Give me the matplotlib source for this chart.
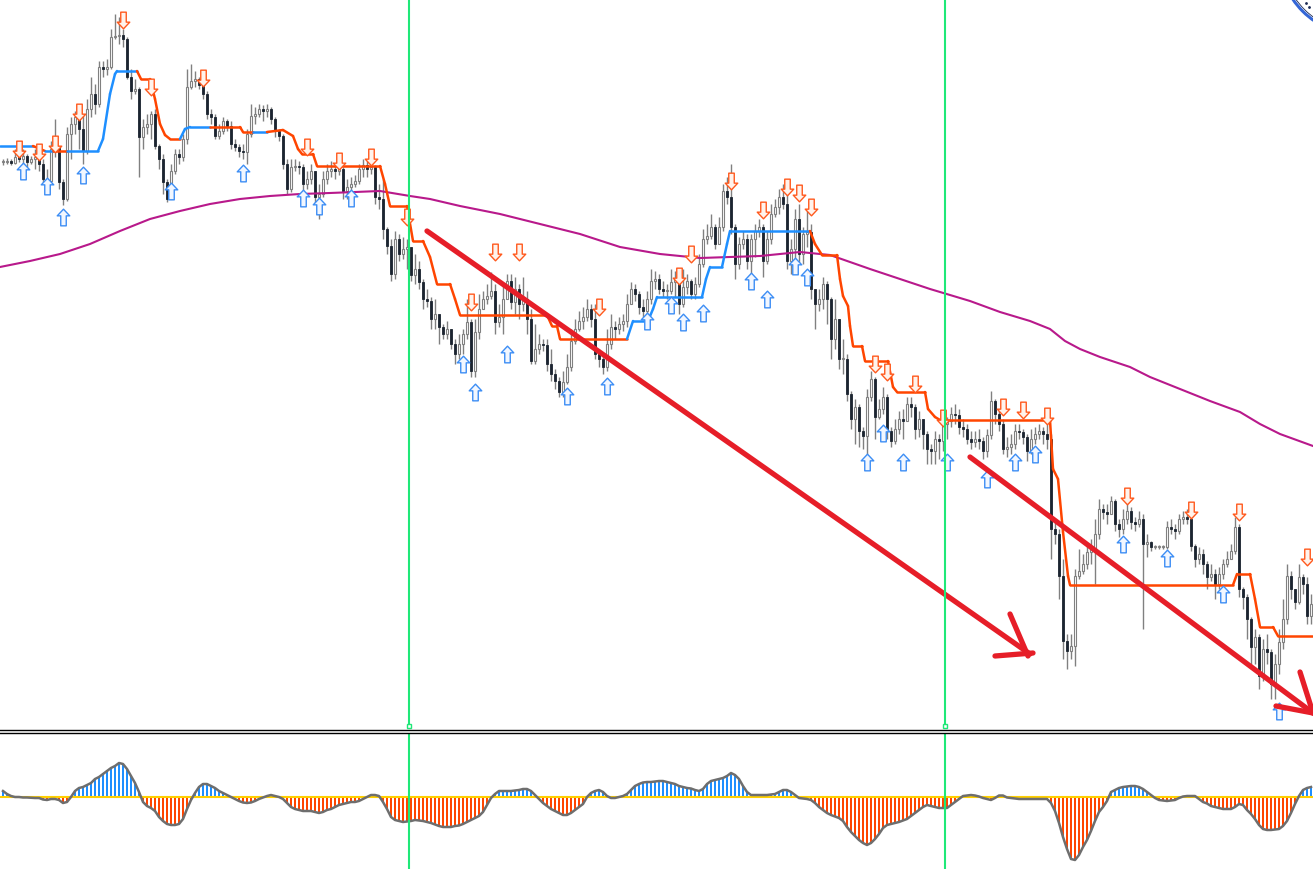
import numpy as np
import matplotlib
matplotlib.use("Agg")
import matplotlib.pyplot as plt
from matplotlib.path import Path
from matplotlib.lines import Line2D
from matplotlib.patches import Ellipse

# ---- price bars (one per candle) ----
closes = [637, 638, 636, 642, 640, 643, 637, 640, 642, 635,
          620, 618, 650, 653, 617, 600, 665, 675, 682, 670,
          648, 690, 705, 695, 732, 730, 732, 762, 763, 764,
          760, 722, 708, 710, 662, 672, 675, 685, 653, 640,
          617, 600, 628, 645, 642, 660, 712, 718, 720, 714,
          705, 685, 682, 663, 668, 678, 673, 655, 652, 648,
          647, 665, 683, 685, 690, 688, 690, 680, 668, 663,
          635, 610, 632, 633, 632, 615, 620, 628, 602, 605,
          620, 628, 630, 628, 630, 608, 612, 615, 618, 630,
          634, 630, 632, 602, 600, 570, 553, 525, 560, 545,
          550, 552, 524, 530, 517, 500, 498, 480, 485, 472,
          465, 470, 455, 445, 455, 465, 477, 428, 467, 490,
          500, 503, 508, 477, 482, 500, 518, 497, 510, 495,
          500, 480, 438, 450, 455, 454, 435, 425, 418, 407,
          417, 432, 458, 470, 478, 482, 490, 480, 445, 440,
          432, 455, 472, 470, 475, 478, 495, 510, 505, 492,
          488, 500, 518, 520, 510, 508, 508, 517, 520, 495,
          512, 518, 505, 515, 535, 560, 563, 572, 555, 572,
          608, 602, 572, 535, 555, 560, 538, 560, 568, 572,
          538, 560, 585, 592, 602, 595, 538, 550, 580, 545,
          565, 567, 510, 495, 500, 515, 500, 460, 480, 440,
          440, 405, 380, 392, 368, 363, 402, 420, 382, 390,
          402, 368, 358, 370, 380, 378, 395, 392, 370, 380,
          365, 350, 348, 360, 358, 375, 378, 385, 384, 372,
          370, 360, 357, 360, 358, 348, 364, 398, 385, 375,
          350, 352, 355, 368, 367, 362, 348, 360, 365, 368,
          365, 360, 270, 265, 223, 158, 148, 153, 223, 228,
          235, 247, 250, 265, 290, 287, 285, 298, 275, 270,
          280, 288, 277, 275, 280, 255, 257, 252, 252, 252,
          252, 272, 270, 268, 280, 282, 280, 253, 240, 245,
          235, 222, 225, 215, 225, 235, 240, 248, 272, 210,
          202, 180, 152, 162, 123, 150, 147, 115, 135, 157,
          180, 223, 210, 197, 222, 215, 183, 195]

highs = [640, 641, 640, 650, 645, 650, 645, 643, 650, 648,
         640, 630, 658, 680, 650, 620, 672, 682, 688, 690,
         685, 700, 722, 715, 738, 738, 740, 770, 785, 782,
         770, 762, 730, 720, 712, 680, 685, 688, 690, 655,
         645, 620, 635, 650, 650, 665, 730, 735, 728, 722,
         718, 708, 690, 685, 675, 682, 680, 678, 660, 655,
         655, 670, 695, 692, 695, 694, 695, 692, 682, 670,
         665, 640, 640, 640, 638, 635, 628, 635, 625, 615,
         628, 635, 638, 635, 640, 632, 620, 622, 624, 635,
         640, 638, 640, 634, 615, 620, 572, 560, 568, 565,
         562, 560, 540, 545, 538, 520, 510, 502, 500, 482,
         475, 478, 470, 460, 465, 470, 500, 480, 480, 505,
         508, 515, 527, 515, 495, 515, 525, 525, 522, 515,
         522, 508, 490, 475, 465, 460, 460, 450, 430, 422,
         428, 445, 470, 480, 488, 492, 500, 495, 495, 450,
         442, 470, 485, 478, 482, 485, 505, 517, 515, 508,
         500, 508, 530, 528, 525, 518, 515, 530, 528, 522,
         530, 525, 520, 522, 545, 570, 575, 585, 575, 582,
         615, 622, 635, 575, 562, 568, 565, 565, 575, 580,
         575, 568, 595, 600, 610, 615, 605, 560, 590, 595,
         572, 588, 575, 505, 510, 522, 518, 502, 500, 480,
         460, 445, 408, 400, 395, 372, 410, 428, 422, 400,
         412, 405, 372, 380, 388, 390, 402, 402, 395, 388,
         375, 368, 355, 368, 365, 382, 382, 392, 395, 390,
         380, 375, 368, 368, 370, 362, 370, 408, 400, 390,
         380, 362, 365, 375, 375, 370, 365, 370, 372, 375,
         372, 375, 365, 280, 270, 240, 165, 165, 230, 250,
         245, 255, 260, 280, 300, 295, 295, 303, 300, 280,
         290, 295, 292, 282, 288, 285, 265, 258, 254, 254,
         254, 278, 280, 275, 285, 288, 290, 285, 255, 252,
         250, 238, 235, 230, 232, 240, 248, 255, 282, 275,
         212, 205, 182, 170, 165, 160, 165, 150, 145, 170,
         200, 235, 228, 210, 235, 225, 222, 205]

lows = [634, 635, 634, 635, 637, 635, 632, 635, 630, 628,
        615, 610, 615, 642, 610, 594, 598, 640, 665, 650,
        635, 645, 682, 685, 692, 722, 724, 730, 760, 755,
        752, 720, 700, 705, 622, 650, 665, 660, 650, 630,
        605, 597, 600, 625, 635, 638, 655, 710, 712, 710,
        700, 680, 675, 660, 660, 665, 668, 650, 648, 642,
        640, 635, 662, 675, 682, 678, 682, 675, 662, 658,
        630, 605, 607, 628, 625, 608, 610, 615, 595, 580,
        602, 615, 622, 620, 624, 600, 600, 605, 612, 615,
        622, 622, 625, 595, 590, 560, 545, 518, 520, 538,
        540, 530, 518, 515, 510, 490, 492, 470, 470, 455,
        460, 460, 450, 435, 440, 445, 460, 422, 422, 460,
        490, 495, 500, 465, 472, 465, 500, 490, 485, 480,
        488, 465, 435, 435, 445, 448, 428, 418, 410, 402,
        402, 415, 428, 455, 468, 470, 478, 472, 440, 432,
        425, 428, 450, 460, 465, 468, 472, 495, 498, 485,
        482, 482, 495, 510, 505, 502, 500, 505, 502, 485,
        492, 505, 500, 500, 512, 532, 555, 560, 550, 555,
        568, 595, 565, 520, 530, 550, 530, 510, 542, 562,
        522, 535, 555, 582, 585, 590, 530, 525, 540, 535,
        535, 552, 500, 470, 488, 490, 475, 440, 450, 430,
        425, 398, 370, 355, 352, 350, 345, 398, 360, 380,
        385, 360, 352, 355, 365, 360, 385, 382, 360, 362,
        350, 335, 335, 335, 340, 348, 360, 372, 375, 365,
        362, 355, 350, 352, 350, 340, 342, 360, 375, 368,
        345, 342, 345, 350, 360, 355, 338, 345, 355, 360,
        355, 350, 240, 255, 200, 140, 130, 140, 133, 220,
        225, 230, 235, 215, 260, 280, 275, 288, 268, 262,
        265, 275, 270, 268, 272, 170, 242, 248, 250, 250,
        250, 250, 265, 260, 265, 275, 275, 248, 232, 235,
        225, 210, 218, 200, 210, 220, 232, 240, 245, 202,
        190, 160, 130, 135, 110, 118, 135, 100, 100, 125,
        150, 175, 200, 190, 195, 205, 175, 175]

# each candle opens where the previous one closed
opens = [closes[0]] + closes[:-1]

# ---- trailing stop line: nodes (bar, price) and trend of following segment ----
stop_bars = [-0.75, 7.5, 10.5, 12.5, 16, 23.75, 25, 26.75, 28, 28.5,
             33.5, 34.5, 36.75, 38, 39.25, 40.5, 41.75, 44.25, 45.5, 46.75,
             51.75, 59.25, 60, 62.5, 66, 70, 72.5, 73.75, 74.75, 77.5,
             78.5, 94.25, 95.5, 96.75, 101, 102.5, 105, 106.75, 108.5, 111.75,
             113, 114.25, 136, 137.25, 138.5, 139.25, 156, 157.5, 161.25, 162.5,
             163.5, 174.75, 175.75, 176.75, 179.75, 181, 181.75, 201.75, 203, 204.75,
             208.5, 209.25, 210, 211.25, 211.75, 212.5, 214.75, 215.5, 221.25, 222.5,
             223.5, 230.5, 231.25, 233, 234.25, 261.75, 262.5, 263.75, 265, 266.25,
             266.75, 307.5, 308.5, 311.75, 313, 314.25, 317.5, 318.75, 327.5]
stop_vals = [653, 653, 648, 648, 648, 648, 660, 705, 725, 728,
             728, 720, 720, 700, 675, 664, 660, 660, 670, 672,
             672, 672, 667, 667, 667, 669, 663, 650, 645, 645,
             633, 633, 615, 593, 593, 558, 558, 542, 515, 515,
             500, 484, 484, 473, 473, 460, 460, 478, 478, 490,
             502, 502, 520, 532, 532, 555, 568, 568, 555, 544,
             544, 520, 503, 493, 473, 453, 453, 438, 438, 412,
             407, 407, 390, 382, 379, 379, 330, 320, 267, 223,
             214, 214, 225, 225, 200, 172, 172, 163, 163]
stop_trend = [1, -1, 1, -1, 1, 1, 1, 1, 1, 1,
              -1, -1, -1, -1, -1, -1, -1, 1, 1, 1,
              -1, -1, -1, 1, -1, -1, -1, -1, -1, -1,
              -1, -1, -1, -1, -1, -1, -1, -1, -1, -1,
              -1, -1, -1, -1, -1, -1, 1, 1, 1, 1,
              1, 1, 1, 1, 1, 1, 1, -1, -1, -1,
              -1, -1, -1, -1, -1, -1, -1, -1, -1, -1,
              -1, -1, -1, -1, -1, -1, -1, -1, -1, -1,
              -1, -1, -1, -1, -1, -1, -1, -1, -1]

# ---- long moving average ----
ma_bars = [-0.75, 6.75, 14.25, 21.75, 29.25, 36.75, 44.25, 51.75, 59.25, 66.75,
           74.25, 81.75, 94.25, 101.75, 106.75, 114.25, 124.25, 134.25, 144.25, 154.25,
           164.25, 174.25, 181.75, 189.25, 199.25, 206.75, 216.75, 224.25, 231.75, 241.75,
           249.25, 256.75, 261.75, 265.5, 269.25, 274.25, 281.75, 286.75, 294.25, 301.75,
           309.25, 314.25, 319.25, 327.5]
ma_vals = [532, 538, 545, 555, 568, 580, 588, 595, 600, 603,
           605, 606, 608, 603, 600, 593, 585, 575, 565, 552,
           545, 541, 542, 543, 547, 544, 530, 520, 510, 498,
           487, 478, 470, 458, 450, 442, 432, 422, 410, 398,
           387, 375, 365, 353]

# ---- signal arrows ----
sell_bars = [4, 9, 13, 19, 30, 37, 50, 76, 84, 92, 101, 117, 123, 129, 149, 169, 172,
             182, 190, 196, 199, 202, 218, 221, 228, 235, 250, 255, 261, 281, 297, 309, 326]
sell_vals = [650, 647, 655, 687, 779, 712, 721, 652, 638, 642, 582, 497, 547, 547, 492, 523, 545,
             618, 589, 612, 606, 592, 435, 427, 415, 381, 392, 389, 383, 303, 289, 287, 242]
buy_bars = [5, 11, 15, 20, 42, 60, 75, 79, 87, 115, 118, 126, 141, 151, 161, 167, 170,
            175, 187, 191, 198, 201, 216, 220, 225, 236, 246, 253, 258, 280, 291, 305, 319]
buy_vals = [628, 613, 582, 624, 608, 626, 601, 593, 601, 435, 407, 445, 403, 413, 478, 494, 477,
            486, 518, 500, 533, 522, 337, 366, 337, 337, 320, 337, 345, 255, 241, 205, 88]

# ---- hand drawn trend arrows (bar, price) ----
trend1_bars, trend1_vals = [106, 256.75], [568, 145]
head1a_bars, head1a_vals = [251.75, 256.25], [185, 143]
head1b_bars, head1b_vals = [248, 257.5], [143, 146]
trend2_bars, trend2_vals = [241.75, 327.5], [342, 86]
head2a_bars, head2a_vals = [324.25, 327.5], [127, 86]
head2b_bars, head2b_vals = [318.25, 327.5], [93, 86]

# vertical period separators
vline_bars = [101.5, 235.5]

# ---- oscillator histogram ----
osc_vals = [6, 3, 1, 0, 0, -0.5, -0.5, -0.8, -1, -1,
            -2.5, -3, -2, -2, -3, -6, -5, 0, 6, 9,
            10, 12, 14, 18, 20, 23, 26, 29, 31, 34,
            33, 28, 21, 14, 5, -5, -9, -11, -14, -20,
            -24, -27, -28, -28, -27, -22, -12, -3, 4, 10,
            13, 13, 11, 9, 6, 4, 2, 0, -2, -4,
            -5.5, -6, -5.5, -4, -2, -0.5, 1, 2, 1, 0,
            -2, -6, -10, -12, -13, -14, -14, -14, -15, -16,
            -15, -13, -12, -10, -8, -7, -6, -5, -5, -4,
            -2, 0, 2, 2, 1, -5, -12, -20, -23, -24,
            -25, -24.5, -24, -23, -23.5, -24, -25, -26, -27.5, -29,
            -30, -30, -30, -29, -28.5, -27, -25, -23, -21, -19,
            -15, -8, -1, 3, 6, 6, 6, 6, 6.5, 7,
            8, 8, 6, 2, -2, -6, -9, -12, -14, -16,
            -18, -18, -16, -13, -10, -7, 0, 4, 6, 7,
            5, 1, -1, -1, 0, 1, 3, 7, 11, 13,
            14.5, 15, 15, 15.5, 16, 16, 15, 14, 13, 11,
            10, 9, 8.5, 7, 6, 8, 13, 16, 17, 18,
            19, 21, 24, 22, 18, 11, 5, 2, 2, 2,
            2, 2, 2.5, 3, 5, 7, 7, 5, 2, -1,
            -1.5, -2, -3, -6, -10, -13, -16, -18, -19.5, -21,
            -24, -30, -35, -39, -43, -46, -48, -46, -42, -37,
            -31, -28, -27, -26, -25, -23.5, -22, -19, -16, -13,
            -10, -8, -9, -10, -11, -11, -11, -8, -5, -2,
            1, 1.5, 2, 1.5, 0.5, -1, -2, -3, -1, 1.5,
            1.5, -0.5, -1, -1.5, -2, -2, -2, -2, -2, -2,
            -2, -2, -6, -14, -26, -40, -52, -62, -63, -58,
            -50, -43, -34, -24, -15, -10, -4, 5, 7, 9,
            10, 10.5, 11, 11, 10, 8, 5, 2, -1, -3,
            -3.5, -4, -3.5, -3, -1, 0.5, 1, 1, 1, -2,
            -5, -6.5, -9, -10, -11, -12, -12, -12, -10, -7,
            -8, -13, -17, -22, -28, -32, -33, -33, -32.5, -32,
            -29, -24, -16, -7, 1, 7, 9, 10]

BLUE = '#1e8fff'
ORANGE = '#ff4500'
GREEN = '#1fe878'
RED = '#e61e28'

W, H = 1313, 870
fig = plt.figure(figsize=(W / 100, H / 100), dpi=100)
fig.patch.set_facecolor('white')
ax = fig.add_axes([0, 141 / H, 1, 729 / H])
osc = fig.add_axes([0, 0, 1, 135 / H])
for a in (ax, osc):
    a.set_axis_off()
    a.set_xlim(-0.75, 327.5)
ax.set_ylim(71, 800)
osc.set_ylim(-72, 63)

bars = np.arange(len(closes))
o = np.array(opens, float)
c = np.array(closes, float)
h = np.array(highs, float)
l = np.array(lows, float)
up = c >= o

# candles
ax.vlines(bars, l, h, color='#808080', lw=1, zorder=2)
body_lo = np.minimum(o, c)
body_h = np.maximum(np.abs(c - o), 0.9)
ax.bar(bars[up], body_h[up], bottom=body_lo[up], width=0.6, color='white',
       edgecolor='#808080', lw=0.8, zorder=3)
ax.bar(bars[~up], body_h[~up], bottom=body_lo[~up], width=0.6, color='#1b2430',
       edgecolor='#1b2430', lw=0.6, zorder=3)

# moving average
ax.plot(ma_bars, ma_vals, color='#b8198b', lw=1.5, zorder=4)

# trailing stop
for k in range(len(stop_bars) - 1):
    col = BLUE if stop_trend[k] > 0 else ORANGE
    ax.plot(stop_bars[k:k + 2], stop_vals[k:k + 2], color=col, lw=1.8,
            solid_capstyle='round', zorder=5)

# arrow markers
up_arrow = Path([(0, 1), (0.75, 0.2), (0.33, 0.2), (0.33, -1), (-0.33, -1),
                 (-0.33, 0.2), (-0.75, 0.2), (0, 1)],
                [Path.MOVETO] + [Path.LINETO] * 6 + [Path.CLOSEPOLY])
down_arrow = Path([(x, -y) for x, y in up_arrow.vertices], up_arrow.codes)
ax.plot(buy_bars, buy_vals, ls='none', marker=up_arrow, ms=12,
        mfc='#f2f7ff', mec='#3d8ef5', mew=1.0, zorder=6)
ax.plot(sell_bars, sell_vals, ls='none', marker=down_arrow, ms=12,
        mfc='#fff3ec', mec='#ff5a1e', mew=1.0, zorder=6)

# red trend arrows
for xs, ys in [(trend1_bars, trend1_vals), (head1a_bars, head1a_vals), (head1b_bars, head1b_vals),
               (trend2_bars, trend2_vals), (head2a_bars, head2a_vals), (head2b_bars, head2b_vals)]:
    ax.plot(xs, ys, color=RED, lw=3.8, solid_capstyle='round', zorder=7)

# green separators
for vb in vline_bars:
    ax.axvline(vb, color=GREEN, lw=1.5, zorder=8)
    osc.axvline(vb, color=GREEN, lw=1.5, zorder=8)
    ax.plot([vb], [73], marker='s', ms=3.5, mfc='white', mec=GREEN, mew=1, zorder=9,
            clip_on=False)

# oscillator
ov = np.array(osc_vals, float)
cols = np.where(ov > 0, BLUE, ORANGE)
osc.bar(bars, ov, width=0.72, color=cols, zorder=2)
osc.axhline(0, color='#ffd000', lw=1.5, zorder=3)
osc.plot(bars, ov, color='#6e6e6e', lw=1.8, zorder=4)

# panel divider
for yy in (1 - 731 / H, 1 - 734 / H):
    fig.add_artist(Line2D([0, 1], [yy, yy], transform=fig.transFigure, color='black', lw=1))

# round badge peeking into the corner
badge = Ellipse((1360 / W, 1 + 45 / H), 2 * 81 / W, 2 * 81 / H, transform=fig.transFigure,
                facecolor='white', edgecolor='#3466d6', lw=2.2, zorder=20)
fig.add_artist(badge)
badge_in = Ellipse((1360 / W, 1 + 45 / H), 2 * 78.5 / W, 2 * 78.5 / H, transform=fig.transFigure,
                   facecolor='none', edgecolor='#1c2a55', lw=0.6, zorder=21)
fig.add_artist(badge_in)
fig.add_artist(Line2D([1306 / W, 1309 / W], [1 - 4 / H, 1 - 8 / H], transform=fig.transFigure,
                      ls='none', marker='.', ms=2, color='#1c2a55', zorder=22))

fig.savefig('out.png', dpi=100)
